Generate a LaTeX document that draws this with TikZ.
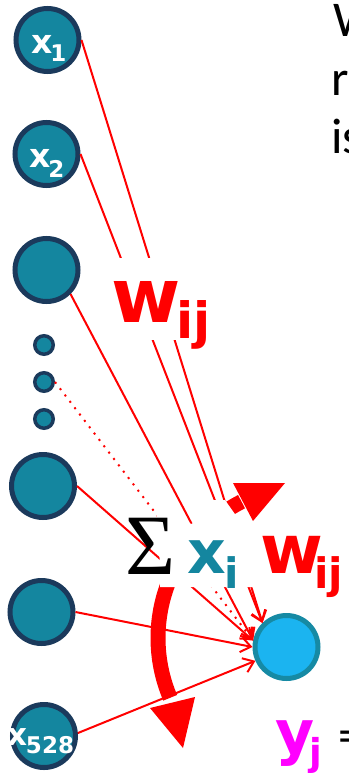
\documentclass[tikz,border=0pt]{standalone}
\usepackage{fontspec}
\usetikzlibrary{arrows.meta}
\newfontfamily\dvs{DejaVu Sans}
\newfontfamily\lserif{Liberation Serif}
\newfontfamily\carl{Carlito}
\definecolor{nodeteal}{HTML}{14869F}
\definecolor{nodenavy}{HTML}{1B3A5C}
\definecolor{outfill}{HTML}{1BB4F0}
\definecolor{outring}{HTML}{168AA4}
\definecolor{wred}{HTML}{FF0000}
\definecolor{pinky}{HTML}{FF00FF}
\newcommand{\fsz}[1]{\fontsize{#1}{#1}\selectfont}

\begin{document}
\begin{tikzpicture}[x=1pt,y=-1pt,
  inode/.style={circle,draw=nodenavy,fill=nodeteal,line width=5pt,minimum size=63pt,inner sep=0pt},
  dotnode/.style={circle,draw=nodenavy,fill=nodeteal,line width=3.5pt,minimum size=18.5pt,inner sep=0pt},
  outnode/.style={circle,draw=outring,fill=outfill,line width=5pt,minimum size=63pt,inner sep=0pt},
  wire/.style={draw=wred,line width=2pt,-{Straight Barb[length=10pt,width=15pt]}},
  dotwire/.style={wire,dash pattern=on 2pt off 6pt},
  blank/.style={fill=white,draw=none},
  txt/.style={inner sep=0pt,outer sep=0pt,anchor=base west},
  inlabel/.style={txt,text=white,font=\dvs\bfseries},
  boldtxt/.style={txt,font=\dvs\bfseries},
  bigarrow/.style={fill=wred,draw=none}]
\useasboundingbox (0,0) rectangle (348,776);
\clip (0,0) rectangle (348,776);

% input layer
\node[inode] (x1) at (47.5,40) {};
\node[inode] (x2) at (46.5,154) {};
\node[inode] (n3) at (46.5,270) {};
\node[dotnode] (d1) at (44,345) {};
\node[dotnode] (d2) at (44,382) {};
\node[dotnode] (d3) at (44,419) {};
\node[inode] (n5) at (43,486) {};
\node[inode] (n6) at (41.5,612) {};
\node[inode] (x528) at (44,736) {};

% output neuron
\node[outnode] (yj) at (286.5,647) {};

% weighted connections
\draw[wire] (x1.east) -- (yj.135);
\draw[wire] (x2.east) -- (yj.135);
\draw[wire] (n3.south east) -- (yj.169);
\draw[dotwire] (d2.east) -- (yj.169);
\draw[wire] (n5.east) -- (yj.169);
\draw[wire] (n6.east) -- (yj.180);
\draw[wire] (x528.5) -- (yj.204);

% circular summation arrow (shaft)
\draw[wred,line width=15pt] plot[domain=243:157,samples=60,variable=\t]
  ({311+153*cos(\t)},{638+153*sin(\t)});

% white label backgrounds
\fill[blank] (108,258) rectangle (215,340);
\fill[blank] (157,514) -- (192,524) -- (212,500) -- (225,500) -- (237,517)
  -- (262,524) -- (348,524) -- (348,587) -- (160,587) -- (160,566) -- cycle;

% arrow heads of the circular arrow
\fill[bigarrow] (233,483) -- (285,483) -- (253,521) -- cycle;
\fill[bigarrow] (150,708) -- (195,697) -- (183,748) -- cycle;

% input labels
\node[inlabel] (x1lbl) at (31,53) {\fsz{33}x\kern-2pt\raisebox{-9pt}{\fsz{23}1}};
\node[inlabel] (x2lbl) at (29,167) {\fsz{33}x\kern-2pt\raisebox{-10pt}{\fsz{23}2}};
\node[inlabel] (x528lbl) at (7,745) {\fsz{31}x\kern-1pt\raisebox{-8pt}{\fsz{23}528}};

% weight label
\node[boldtxt,text=wred] (wtop) at (111,322) {\fsz{75}w};
\node[boldtxt,text=wred] (wtopsub) at (176,338) {\fsz{50}ij};

% weighted sum
\node[txt,font=\lserif] (sig) at (125,574) {\fsz{86}Σ};
\node[boldtxt,text=nodeteal] (xi) at (187,573) {\fsz{60}x};
\node[boldtxt,text=nodeteal] (xisub) at (224,588) {\fsz{42}i};
\node[boldtxt,text=wred] (wmid) at (260,573) {\fsz{68}w};
\node[boldtxt,text=wred] (wmidsub) at (314,588) {\fsz{42}ij};

% output
\node[boldtxt,text=pinky] (yout) at (275,753) {\fsz{60}y};
\node[boldtxt,text=pinky] (youtsub) at (309,765) {\fsz{37}j};
\node[txt,font=\carl] (eq) at (338,752) {\fsz{50}=};

% side text
\node[txt,font=\carl] (t1) at (333,37) {\fsz{50}W};
\node[txt,font=\carl] (t2) at (331.5,95) {\fsz{50}r};
\node[txt,font=\carl] (t3) at (331.5,153) {\fsz{50}is};
\end{tikzpicture}
\end{document}
